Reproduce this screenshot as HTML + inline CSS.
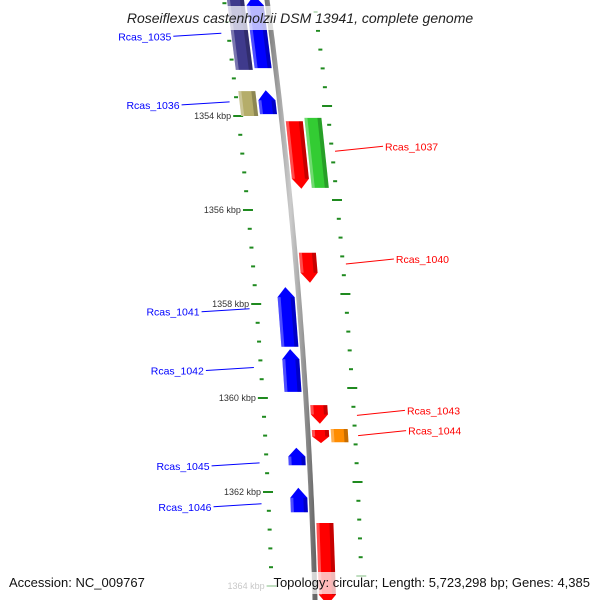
<!DOCTYPE html>
<html><head><meta charset="utf-8"><style>
html,body{margin:0;padding:0;background:#fff;}
svg{display:block;font-family:"Liberation Sans","DejaVu Sans",sans-serif;}
</style></head><body>
<svg id="chart" width="600" height="600" viewBox="0 0 600 600" xmlns="http://www.w3.org/2000/svg">
<defs>
<linearGradient id="bbg" x1="0" x2="1" y1="0" y2="0"><stop offset="0" stop-color="#777"/><stop offset="0.5" stop-color="#ccc"/><stop offset="1" stop-color="#666"/></linearGradient>
</defs>
<g id="ticks"></g>
<path id="backbone" fill="none" stroke="url(#bbg)" stroke-width="5"/>
<g id="genes"></g>
<g id="labels"></g>
<rect x="108" y="6" width="384" height="24" fill="#fff" fill-opacity="0.72"/>
<text x="300" y="23" text-anchor="middle" font-size="14" font-style="italic" fill="#222">Roseiflexus castenholzii DSM 13941, complete genome</text>
<rect x="4" y="572" width="592" height="22" fill="#fff" fill-opacity="0.72"/>
<text x="9" y="587" font-size="13" fill="#111">Accession: NC_009767</text>
<text x="590" y="587" text-anchor="end" font-size="13" fill="#111">Topology: circular; Length: 5,723,298 bp; Genes: 4,385</text>
</svg>
<script>
// data (kbp)
const geneNames   = ["g1035a","Rcas_1035","g1036a","Rcas_1036","Rcas_1037","g1037b","Rcas_1040","Rcas_1041","Rcas_1042","Rcas_1043","Rcas_1044","g1044b","Rcas_1045","Rcas_1046","g1047"];
const geneStarts  = [1351.43,1351.43,1353.47,1353.45,1354.11,1354.04,1356.91,1357.64,1358.96,1360.15,1360.68,1360.66,1361.06,1361.91,1362.66];
const geneEnds    = [1353.02,1352.98,1354.00,1353.96,1355.55,1355.53,1357.55,1358.91,1359.87,1360.55,1360.96,1360.94,1361.43,1362.43,1364.40];
const geneStrands = [1,1,1,1,-1,-1,-1,1,1,-1,-1,-1,1,1,-1];
const geneLanes   = [2,1,2,1,1,2,1,1,1,1,1,2,1,1,1];
const geneArrows  = [0,1,0,1,1,0,1,1,1,1,1,0,1,1,1];
const geneColors  = ["#3f3a8c","#0000ff","#b5ad6a","#0000ff","#ff0000","#33cc33","#ff0000","#0000ff","#0000ff","#ff0000","#ff0000","#ff8c00","#0000ff","#0000ff","#ff0000"];
const labelTexts  = ["Rcas_1035","Rcas_1036","Rcas_1037","Rcas_1040","Rcas_1041","Rcas_1042","Rcas_1043","Rcas_1044","Rcas_1045","Rcas_1046"];
const labelKbp    = [1352.24,1353.70,1354.75,1357.15,1358.10,1359.35,1360.37,1360.80,1361.38,1362.25];
const labelSides  = [-1,-1,1,1,-1,-1,1,1,-1,-1];
const labelColors = ["#0000ff","#0000ff","#ff0000","#ff0000","#0000ff","#0000ff","#ff0000","#ff0000","#0000ff","#0000ff"];
const tickStart = 1351.6, tickEnd = 1364.0, tickStep = 0.4;
const majorTicks = [1354,1356,1358,1360,1362,1364];

const NS="http://www.w3.org/2000/svg";
function yOf(k){return 116+(k-1354)*47;}
function bb(y){return 267+0.1325*y-0.0000875*y*y;}
function mk(t,a,p){const e=document.createElementNS(NS,t);for(const k in a)e.setAttribute(k,a[k]);p.appendChild(e);return e;}

// backbone
let d="";for(let y=-5;y<=605;y+=5){d+=(y===-5?"M":"L")+bb(y).toFixed(1)+" "+y;}
document.getElementById("backbone").setAttribute("d",d);

// ticks
const tg=document.getElementById("ticks");
for(let k=tickStart;k<=tickEnd+0.001;k+=tickStep){
  const major=majorTicks.some(m=>Math.abs(m-k)<0.01);
  const y=yOf(k), w=major?10:4;
  const lt=mk("rect",{x:bb(y)-43-w/2,y:y-1,width:w,height:2,fill:"#1f8a1f"},tg);
  
  
  const y2=y-10;
  const rt=mk("rect",{x:bb(y2)+47-w/2,y:y2-1,width:w,height:2,fill:"#1f8a1f"},tg);
  
  
  if(major){
    const t=mk("text",{x:bb(y)-50,y:y+3,"text-anchor":"end","font-size":"9",fill:"#333"},tg);
    t.textContent=Math.round(k)+" kbp";
    
    
  }
}

// genes
const gg=document.getElementById("genes");
for(let i=0;i<geneNames.length;i++){
  const y1=yOf(geneStarts[i]), y2=yOf(geneEnds[i]);
  const s=geneStrands[i], L=geneLanes[i];
  const inner=4+(L-1)*19, outer=inner+17;
  const off=o=>s>0?-o:o;
  const xa=y=>bb(y)+off(inner), xb=y=>bb(y)+off(outer);
  const lx=y=>Math.min(xa(y),xb(y)), rx=y=>Math.max(xa(y),xb(y));
  let pts;
  const ah=Math.min(10,(y2-y1)*0.5);
  if(!geneArrows[i]) pts=[[lx(y1),y1],[rx(y1),y1],[rx(y2),y2],[lx(y2),y2]];
  else if(s>0){ // arrow up
    const yt=y1, yb=y1+ah, m=(lx(yt)+rx(yt))/2;
    pts=[[m,yt],[rx(yb),yb],[rx(y2),y2],[lx(y2),y2],[lx(yb),yb]];
  } else { // arrow down
    const yb=y2, yt=y2-ah, m=(lx(yb)+rx(yb))/2;
    pts=[[lx(y1),y1],[rx(y1),y1],[rx(yt),yt],[m,yb],[lx(yt),yt]];
  }
  const p=mk("polygon",{points:pts.map(q=>q[0].toFixed(1)+","+q[1].toFixed(1)).join(" "),fill:geneColors[i]},gg);
  
  
  // shading strip
  const sy1=geneArrows[i]&&s>0?y1+ah:y1, sy2=geneArrows[i]&&s<0?y2-ah:y2;
  const sh=mk("polygon",{points:[[rx(sy1)-4,sy1],[rx(sy1),sy1],[rx(sy2),sy2],[rx(sy2)-4,sy2]].map(q=>q[0].toFixed(1)+","+q[1].toFixed(1)).join(" "),fill:"#000","fill-opacity":"0.22"},gg);
  
  
  const hl=mk("polygon",{points:[[lx(sy1),sy1],[lx(sy1)+3,sy1],[lx(sy2)+3,sy2],[lx(sy2),sy2]].map(q=>q[0].toFixed(1)+","+q[1].toFixed(1)).join(" "),fill:"#fff","fill-opacity":"0.3"},gg);
  
  
}

// labels
const lg=document.getElementById("labels");
for(let i=0;i<labelTexts.length;i++){
  const y=yOf(labelKbp[i]), side=labelSides[i];
  const x0=bb(y)+side*50, x1=x0+side*48, ty=y+side*-3+ (side<0?4:-1);
  const ln=mk("line",{x1:x0,y1:y,x2:x1,y2:y+3*(side<0?1:-1)+(side<0?0:-2),stroke:labelColors[i],"stroke-width":"1"},lg);
  
  
  const t=mk("text",{x:x1+side*2,y:y+(side<0?7:-1),"text-anchor":side<0?"end":"start","font-size":"10.5",fill:labelColors[i]},lg);
  t.textContent=labelTexts[i];
  
  
}
</script>
</body></html>
